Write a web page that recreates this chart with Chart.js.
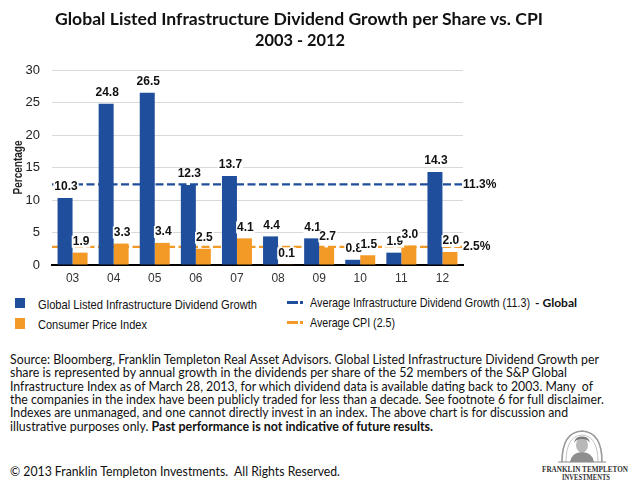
<!DOCTYPE html>
<html><head><meta charset="utf-8">
<script src="https://cdn.jsdelivr.net/npm/chart.js@4.4.1/dist/chart.umd.min.js"></script>
<style>
html,body{margin:0;padding:0;background:#fff;width:640px;height:488px;overflow:hidden;}
body{position:relative;}
.t{position:absolute;white-space:nowrap;transform-origin:0 50%;line-height:1;color:#111;}
.n{font-family:"Liberation Sans Narrow","Arial Narrow","Liberation Sans",Arial,sans-serif;font-size:13px;}
.c{font-family:Lato,"Open Sans",sans-serif;font-size:12.5px;}
.title{font-family:Lato,"Open Sans",sans-serif;font-weight:bold;font-size:17px;}
.sq{position:absolute;}
#wrap{position:absolute;left:0;top:0;width:640px;height:295px;}
</style></head><body>
<div id="wrap"><canvas id="chart" width="640" height="295"></canvas></div>

<div class="t title" data-w="488" style="left:55px;top:10px;">Global Listed Infrastructure Dividend Growth per Share vs. CPI</div>
<div class="t title" data-w="90" style="left:255px;top:31px;">2003 - 2012</div>

<div class="sq" style="left:15px;top:298px;width:10px;height:10px;background:#1f4e9c"></div>
<div class="sq" style="left:15px;top:318px;width:10px;height:11px;background:#f39a26"></div>
<div class="t n" data-w="219" style="left:38px;top:298px;">Global Listed Infrastructure Dividend Growth</div>
<div class="t n" data-w="109" style="left:38px;top:318px;">Consumer Price Index</div>

<div class="sq" style="left:287px;top:301px;width:11px;height:3px;background:#1f4e9c"></div>
<div class="sq" style="left:300px;top:301px;width:3px;height:3px;background:#1f4e9c"></div>
<div class="sq" style="left:287px;top:321px;width:11px;height:3px;background:#f39a26"></div>
<div class="sq" style="left:300px;top:321px;width:3px;height:3px;background:#f39a26"></div>
<div class="t n" data-w="220" style="left:310px;top:296px;">Average Infrastructure Dividend Growth (11.3)</div>
<div class="t c" data-w="42" style="left:535px;top:297px;font-weight:bold;font-size:12px;">- Global</div>
<div class="t n" data-w="85" style="left:310px;top:316px;">Average CPI (2.5)</div>

<div class="t c" data-w="589" style="left:10px;top:354px;">Source: Bloomberg, Franklin Templeton Real Asset Advisors. Global Listed Infrastructure Dividend Growth per</div>
<div class="t c" data-w="557" style="left:10px;top:367.3px;">share is represented by annual growth in the dividends per share of the 52 members of the S&amp;P Global</div>
<div class="t c" data-w="583" style="left:10px;top:380.6px;">Infrastructure Index as of March 28, 2013, for which dividend data is available dating back to 2003. Many&nbsp; of</div>
<div class="t c" data-w="594" style="left:10px;top:393.9px;">the companies in the index have been publicly traded for less than a decade. See footnote 6 for full disclaimer.</div>
<div class="t c" data-w="558" style="left:10px;top:407.2px;">Indexes are unmanaged, and one cannot directly invest in an index. The above chart is for discussion and</div>
<div class="t c" data-w="423" style="left:10px;top:420.5px;">illustrative purposes only. <b>Past performance is not indicative of future results.</b></div>
<div class="t c" data-w="330" style="left:10px;top:466px;">© 2013 Franklin Templeton Investments.&nbsp; All Rights Reserved.</div>

<svg style="position:absolute;left:558px;top:428px" width="48" height="36" viewBox="0 0 48 36">
  <path d="M4 34 Q4 4 24 3 Q44 4 44 34" fill="none" stroke="#9a9a9a" stroke-width="1.6"/>
  <path d="M8 34 Q8 8 24 7 Q40 8 40 34" fill="none" stroke="#c4c4c4" stroke-width="1"/>
  <ellipse cx="24" cy="17" rx="6" ry="7.5" fill="#b8b8b8"/>
  <path d="M12 34 Q14 24 24 24 Q34 24 36 34 Z" fill="#8e8e8e"/>
  <path d="M16 15 Q17 8 24 8.5 Q31 8 32 15 Q30 11 24 11 Q18 11 16 15Z" fill="#7a7a7a"/>
  <path d="M0 34 L48 34" stroke="#8a8a8a" stroke-width="1"/>
</svg>
<div class="t" data-w="86" style="left:542px;top:465px;font-family:'Liberation Serif','DejaVu Serif',serif;font-weight:bold;font-size:8.5px;color:#333;">FRANKLIN TEMPLETON</div>
<div class="t" data-w="48" style="left:562px;top:472.5px;font-family:'Liberation Serif','DejaVu Serif',serif;font-weight:bold;font-size:8.5px;color:#333;">INVESTMENTS</div>

<script>
const categories = ['03','04','05','06','07','08','09','10','11','12'];
const dividendGrowth = [10.3, 24.8, 26.5, 12.3, 13.7, 4.4, 4.1, 0.8, 1.9, 14.3];
const consumerPriceIndex = [1.9, 3.3, 3.4, 2.5, 4.1, 0.1, 2.7, 1.5, 3.0, 2.0];
const yTicks = [0, 5, 10, 15, 20, 25, 30];
const yAxisTitle = 'Percentage';
const avgDividendLabel = 11.3;   // stated average
const avgCpiLabel = 2.5;         // stated average
const avgDividendDrawnAt = 12.4; // height of the dashed line as drawn in the picture
const avgCpiDrawnAt = 2.8;       // height of the dashed line as drawn in the picture

const BLUE = '#1f4e9c', ORANGE = '#f39a26';
const NARROW = '"Liberation Sans Narrow","Arial Narrow","Liberation Sans",Arial,sans-serif';

// fit HTML text widths
document.querySelectorAll('[data-w]').forEach(el => {
  const w = el.getBoundingClientRect().width;
  if (w > 0) el.style.transform = 'scaleX(' + (parseFloat(el.dataset.w) / w) + ')';
});

const avgLines = {
  id: 'avgLines',
  beforeDatasetsDraw(chart) {
    const {ctx, chartArea: a, scales: {y}} = chart;
    const items = [
      {v: avgDividendDrawnAt, c: BLUE, t: avgDividendLabel.toFixed(1) + '%'},
      {v: avgCpiDrawnAt, c: ORANGE, t: avgCpiLabel.toFixed(1) + '%'}
    ];
    ctx.save();
    items.forEach(it => {
      const py = y.getPixelForValue(it.v);
      ctx.strokeStyle = it.c; ctx.lineWidth = 2.2; ctx.setLineDash([8, 3.5]);
      ctx.beginPath(); ctx.moveTo(a.left, py); ctx.lineTo(a.right - 1, py); ctx.stroke();
      ctx.setLineDash([]);
      ctx.fillStyle = '#111'; ctx.font = 'bold 12px ' + NARROW;
      ctx.textAlign = 'left'; ctx.textBaseline = 'middle';
      ctx.fillText(it.t, a.right, py);
    });
    ctx.restore();
  }
};

const valueLabels = {
  id: 'valueLabels',
  afterDatasetsDraw(chart) {
    const ctx = chart.ctx;
    ctx.save();
    ctx.font = 'bold 12px ' + NARROW;
    ctx.textAlign = 'center'; ctx.textBaseline = 'middle';
    chart.data.datasets.forEach((ds, i) => {
      chart.getDatasetMeta(i).data.forEach((bar, j) => {
        const txt = ds.data[j].toFixed(1);
        const w = ctx.measureText(txt).width;
        const cy = bar.y - 11;
        ctx.fillStyle = '#fff';
        ctx.fillRect(bar.x + 1 - w / 2 - 1, cy - 6, w + 2, 12);
        ctx.fillStyle = '#111';
        ctx.fillText(txt, bar.x + 1, cy);
      });
    });
    ctx.restore();
  }
};

// compact y-axis title (condensed, like the original narrow face)
const yTitle = {
  id: 'yTitle',
  afterDraw(chart) {
    const {ctx, chartArea: a} = chart;
    ctx.save();
    ctx.font = 'bold 13px ' + NARROW;
    const w = ctx.measureText(yAxisTitle).width;
    ctx.translate(18, (a.top + a.bottom) / 2);
    ctx.rotate(-Math.PI / 2);
    ctx.scale(54 / w, 1);
    ctx.fillStyle = '#222'; ctx.textAlign = 'center'; ctx.textBaseline = 'middle';
    ctx.fillText(yAxisTitle, 0, 0);
    ctx.restore();
  }
};

Chart.defaults.font.family = NARROW;
Chart.defaults.color = '#222';

new Chart(document.getElementById('chart'), {
  type: 'bar',
  data: {
    labels: categories,
    datasets: [
      {label: 'Global Listed Infrastructure Dividend Growth', data: dividendGrowth, backgroundColor: BLUE,
       categoryPercentage: 0.73, barPercentage: 1.0, borderWidth: 0},
      {label: 'Consumer Price Index', data: consumerPriceIndex, backgroundColor: ORANGE,
       categoryPercentage: 0.73, barPercentage: 1.0, borderWidth: 0}
    ]
  },
  options: {
    responsive: false,
    animation: false,
    layout: {padding: {left: 0, right: 177, top: 70, bottom: 0}},
    plugins: {legend: {display: false}, tooltip: {enabled: false}, title: {display: false}},
    scales: {
      x: {
        grid: {display: false, drawTicks: false},
        border: {display: true, color: '#000', width: 2},
        ticks: {padding: 6, font: {size: 12}, color: '#333'},
        afterFit(s) { s.height = 30; }
      },
      y: {
        min: yTicks[0], max: yTicks[yTicks.length - 1],
        ticks: {stepSize: yTicks[1] - yTicks[0], padding: 12, font: {size: 13}, color: '#222'},
        grid: {color: '#d9d9d9', lineWidth: 1, drawTicks: false},
        border: {display: false},
        title: {display: false},
        afterFit(s) { s.width = 52; }
      }
    }
  },
  plugins: [avgLines, valueLabels, yTitle]
});
</script>
</body></html>
